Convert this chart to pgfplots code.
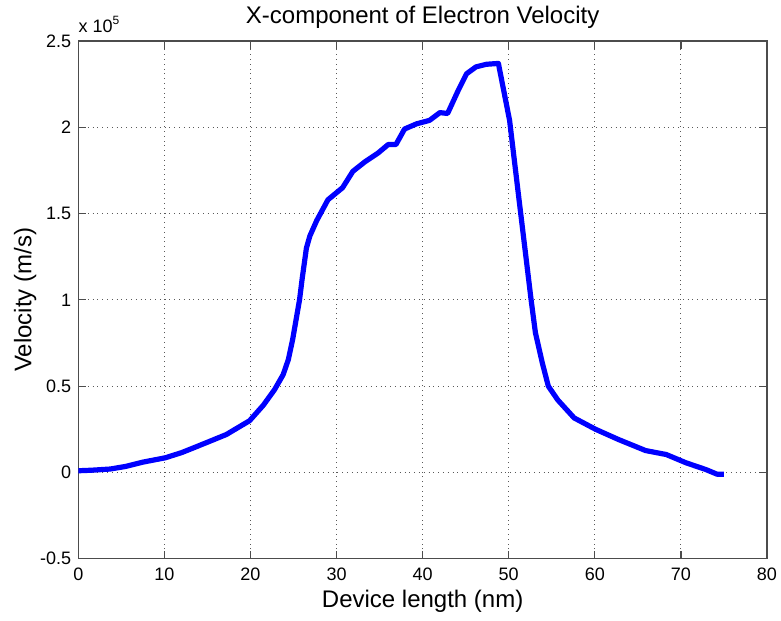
\documentclass[border=0pt]{standalone}
\usepackage{fontspec}
\setmainfont{Liberation Sans}
\usepackage{pgfplots}
\pgfplotsset{compat=1.18}
\begin{document}
\begin{tikzpicture}
\begin{axis}[
  name=ax,
  scale only axis,
  width=344.5pt, height=259pt,
  xmin=0, xmax=80, ymin=-0.5, ymax=2.5,
  xtick={0,10,...,80},
  ytick={-0.5,0,0.5,1,1.5,2,2.5},
  scaled y ticks=false,
  /pgf/number format/assume math mode=true,
  tick label style={font=\fontsize{9}{10}\selectfont},
  xticklabel style={anchor=base, yshift=-10.75pt},
  grid=major,
  major grid style={dotted, black!65, line width=0.5pt},
  axis line style={black!70, line width=0.6pt},
  tick style={black!70, line width=0.6pt},
  tick align=inside,
  major tick length=4pt,
  every axis x label/.style={at={(axis description cs:0.5,0)}, anchor=base, yshift=-24.5pt, font=\fontsize{12}{14}\selectfont},
  every axis y label/.style={at={(axis description cs:0,0.5)}, rotate=90, anchor=base, yshift=23.5pt, font=\fontsize{12}{14}\selectfont},
  every axis title/.style={at={(axis description cs:0.5,1)}, anchor=base, yshift=8.85pt, font=\fontsize{12}{14}\selectfont},
  title={X-component of Electron Velocity},
  xlabel={Device length (nm)},
  ylabel={Velocity (m/s)},
]
\addplot[blue, line width=2.6pt, line join=round, line cap=butt] coordinates {
(0,0.01) (1.5,0.013) (3.7,0.02) (5.5,0.035) (7.5,0.06) (10.1,0.085)
(12,0.115) (14.5,0.165) (17.2,0.22) (19.9,0.30) (20.7,0.345) (21.5,0.39)
(22.8,0.48) (23.8,0.567) (24.4,0.654) (24.9,0.77) (25.3,0.885) (25.7,1.00)
(26.0,1.12) (26.5,1.30) (26.9,1.37) (27.7,1.46) (29.0,1.58) (30.7,1.65)
(31.9,1.745) (33.3,1.80) (34.8,1.85) (36.0,1.90) (36.9,1.90) (37.9,1.99)
(39.3,2.02) (40.8,2.04) (42.0,2.085) (42.9,2.08) (44.1,2.21) (45.1,2.31)
(46.2,2.35) (47.4,2.365) (48.8,2.37) (50.1,2.04) (51.2,1.58) (51.9,1.29)
(52.6,1.00) (53.1,0.81) (53.9,0.635) (54.6,0.50) (55.7,0.42) (57.6,0.316)
(60.1,0.25) (62.8,0.19) (65.9,0.127) (68.3,0.104) (70.6,0.056) (72.9,0.017)
(74.2,-0.01) (75.0,-0.01)
};
\end{axis}
\node[anchor=base west, inner sep=0pt, font=\fontsize{9}{10}\selectfont] at ([yshift=4pt]ax.north west) {x 10\raisebox{0.9ex}{\fontsize{6}{6}\selectfont 5}};
\pgfresetboundingbox
\path[use as bounding box] ([shift={(-39.15pt,-31pt)}]ax.south west) rectangle ([shift={(7pt,20.5pt)}]ax.north east);
\end{tikzpicture}
\end{document}
